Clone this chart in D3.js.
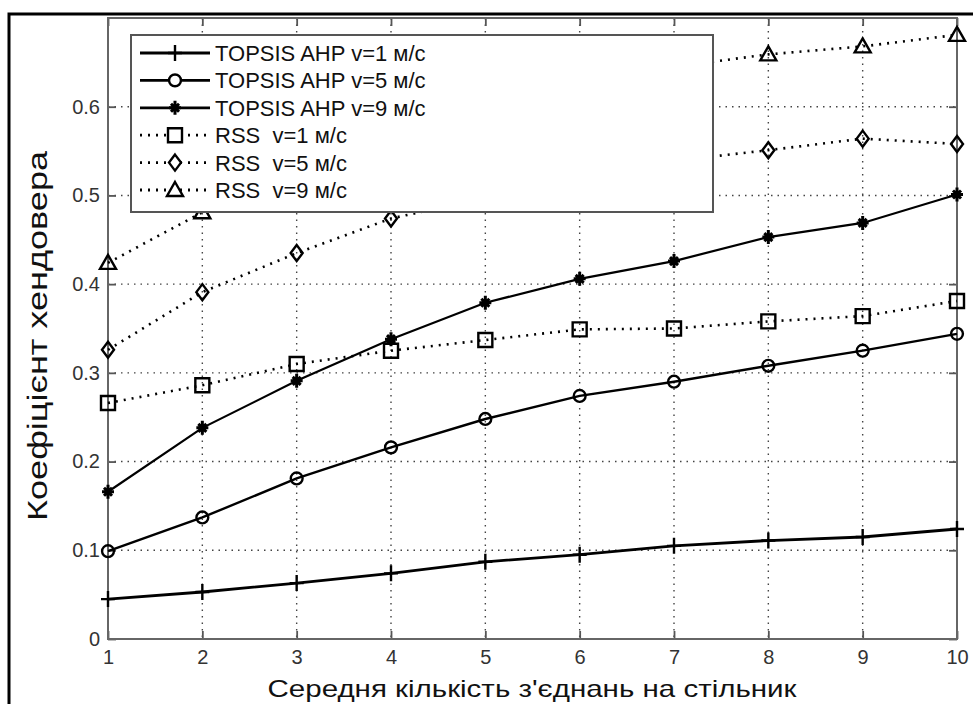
<!DOCTYPE html>
<html><head><meta charset="utf-8">
<script src="https://cdn.jsdelivr.net/npm/d3@7"></script>
<style>body{margin:0;background:#fff;} svg{display:block;}</style>
</head><body>
<svg id="c" width="973" height="704"></svg>
<script>
const xVals = [1,2,3,4,5,6,7,8,9,10];
const topsis1 = [0.045,0.053,0.063,0.074,0.087,0.095,0.105,0.111,0.115,0.124];
const topsis5 = [0.099,0.137,0.181,0.216,0.248,0.274,0.290,0.308,0.325,0.344];
const topsis9 = [0.166,0.238,0.291,0.338,0.379,0.406,0.426,0.453,0.469,0.501];
const rss1 = [0.266,0.286,0.310,0.325,0.337,0.349,0.350,0.358,0.364,0.381];
const rss5 = [0.326,0.391,0.435,0.474,0.497,0.518,0.539,0.551,0.564,0.558];
const rss9 = [0.424,0.481,0.525,0.563,0.594,0.621,0.645,0.659,0.668,0.681];
const seriesNames = ["TOPSIS AHP v=1 м/с","TOPSIS AHP v=5 м/с","TOPSIS AHP v=9 м/с","RSS  v=1 м/с","RSS  v=5 м/с","RSS  v=9 м/с"];
const xTicks = [1,2,3,4,5,6,7,8,9,10];
const yTicks = [0,0.1,0.2,0.3,0.4,0.5,0.6];
const yTickLabels = ["0","0.1","0.2","0.3","0.4","0.5","0.6"];
const xTitle = "Середня кількість з'єднань на стільник";
const yTitle = "Коефіцієнт хендовера";

const series = [
  {name: seriesNames[0], values: topsis1, marker: "plus", dotted: false, w: 2.8},
  {name: seriesNames[1], values: topsis5, marker: "circle", dotted: false, w: 2.4},
  {name: seriesNames[2], values: topsis9, marker: "star", dotted: false, w: 2.2},
  {name: seriesNames[3], values: rss1, marker: "square", dotted: true, w: 2.6},
  {name: seriesNames[4], values: rss5, marker: "diamond", dotted: true, w: 2.6},
  {name: seriesNames[5], values: rss9, marker: "triangle", dotted: true, w: 2.6}
];

const svg = d3.select("#c");
const L = 108, R = 957, T = 18, B = 639;
const x = d3.scaleLinear().domain([1,10]).range([L,R]);
const y = d3.scaleLinear().domain([0,0.7]).range([B,T]);
const FONT = "Liberation Sans, Arial, sans-serif";

// grid
const grid = svg.append("g");
grid.selectAll("line.gx").data(xTicks.slice(1,-1)).join("line")
  .attr("x1", d=>x(d)).attr("x2", d=>x(d)).attr("y1", T).attr("y2", B)
  .attr("stroke","#444").attr("stroke-width",1.4).attr("stroke-dasharray","1.5,5");
grid.selectAll("line.gy").data(yTicks.slice(1)).join("line")
  .attr("x1", L).attr("x2", R).attr("y1", d=>y(d)).attr("y2", d=>y(d))
  .attr("stroke","#444").attr("stroke-width",1.4).attr("stroke-dasharray","1.5,5");

// axes with inside ticks
const axB = d3.axisBottom(x).tickValues(xTicks).tickSize(-8).tickPadding(11).tickFormat(d=>d);
const axT = d3.axisTop(x).tickValues(xTicks).tickSize(-8).tickFormat("");
const axLf = d3.axisLeft(y).tickValues(yTicks).tickSize(-8).tickPadding(8).tickFormat((d,i)=>yTickLabels[i]);
const axRt = d3.axisRight(y).tickValues(yTicks).tickSize(-8).tickFormat("");
function styleAxis(g){
  g.attr("font-size",20).attr("font-family",FONT);
  g.select(".domain").remove();
  g.selectAll(".tick line").attr("stroke","#555").attr("stroke-width",1.8);
  g.selectAll(".tick text").attr("fill","#333").style("font-size","20px").style("font-family",FONT);
}
svg.append("g").attr("transform",`translate(0,${B})`).call(axB).call(styleAxis);
svg.append("g").attr("transform",`translate(0,${T})`).call(axT).call(styleAxis);
svg.append("g").attr("transform",`translate(${L},0)`).call(axLf).call(styleAxis);
svg.append("g").attr("transform",`translate(${R},0)`).call(axRt).call(styleAxis);

svg.append("rect").attr("x",L).attr("y",T).attr("width",R-L).attr("height",B-T)
  .attr("fill","none").attr("stroke","#666").attr("stroke-width",2);

// marker paths
function markerPath(type){
  switch(type){
    case "plus": return "M-7,0H7M0,-8V8";
    case "circle": return d3.symbol(d3.symbolCircle, 110)();
    case "star": return "M-6,0H6M0,-7V7M-4,-4L4,4M-4,4L4,-4";
    case "square": return "M-7,-7H7V7H-7Z";
    case "diamond": return "M0,-8L6,0L0,8L-6,0Z";
    case "triangle": return "M0,-8L8,6H-8Z";
  }
}

const line = d3.line().x((d,i)=>x(xVals[i])).y(d=>y(d));
const plot = svg.append("g");
series.forEach(s=>{
  plot.append("path").attr("d", line(s.values)).attr("fill","none")
    .attr("stroke","#000").attr("stroke-width", s.w)
    .attr("stroke-dasharray", s.dotted?"2,6":null);
  plot.selectAll(null).data(s.values).join("path")
    .attr("transform",(d,i)=>`translate(${x(xVals[i])},${y(d)})`)
    .attr("d", markerPath(s.marker))
    .attr("fill","none")
    .attr("stroke","#000").attr("stroke-width", s.marker==="star"?3:2.4);
});

// legend
const lg = svg.append("g");
lg.append("rect").attr("x",131).attr("y",35).attr("width",582).attr("height",177)
  .attr("fill","#fff").attr("stroke","#555").attr("stroke-width",2);
series.forEach((s,i)=>{
  const cy = 53 + i*27.4;
  lg.append("line").attr("x1",140).attr("x2",210).attr("y1",cy).attr("y2",cy)
    .attr("stroke","#000").attr("stroke-width",2.8)
    .attr("stroke-dasharray", s.dotted?"2,6":null);
  lg.append("path").attr("transform",`translate(175,${cy})`).attr("d",markerPath(s.marker))
    .attr("fill", s.marker==="star"?"none":"#fff").attr("stroke","#000").attr("stroke-width",s.marker==="star"?3:2.4);
  lg.append("text").attr("x",215).attr("y",cy).attr("dy","0.36em")
    .attr("font-family",FONT).attr("font-size",22)
    .attr("fill","#111").style("white-space","pre").attr("xml:space","preserve").text(s.name);
});

// titles
svg.append("text").attr("x",532).attr("y",697).attr("text-anchor","middle")
  .attr("font-family",FONT).attr("font-size",24).attr("fill","#111")
  .attr("textLength",529).attr("lengthAdjust","spacingAndGlyphs").text(xTitle);
svg.append("text").attr("transform",`translate(47,336) rotate(-90)`).attr("text-anchor","middle")
  .attr("font-family",FONT).attr("font-size",28).attr("fill","#111")
  .attr("textLength",370).attr("lengthAdjust","spacingAndGlyphs").text(yTitle);

// outer frame
svg.append("rect").attr("x",9).attr("y",14).attr("width",980).attr("height",720)
  .attr("fill","none").attr("stroke","#000").attr("stroke-width",3);
</script>
</body></html>
